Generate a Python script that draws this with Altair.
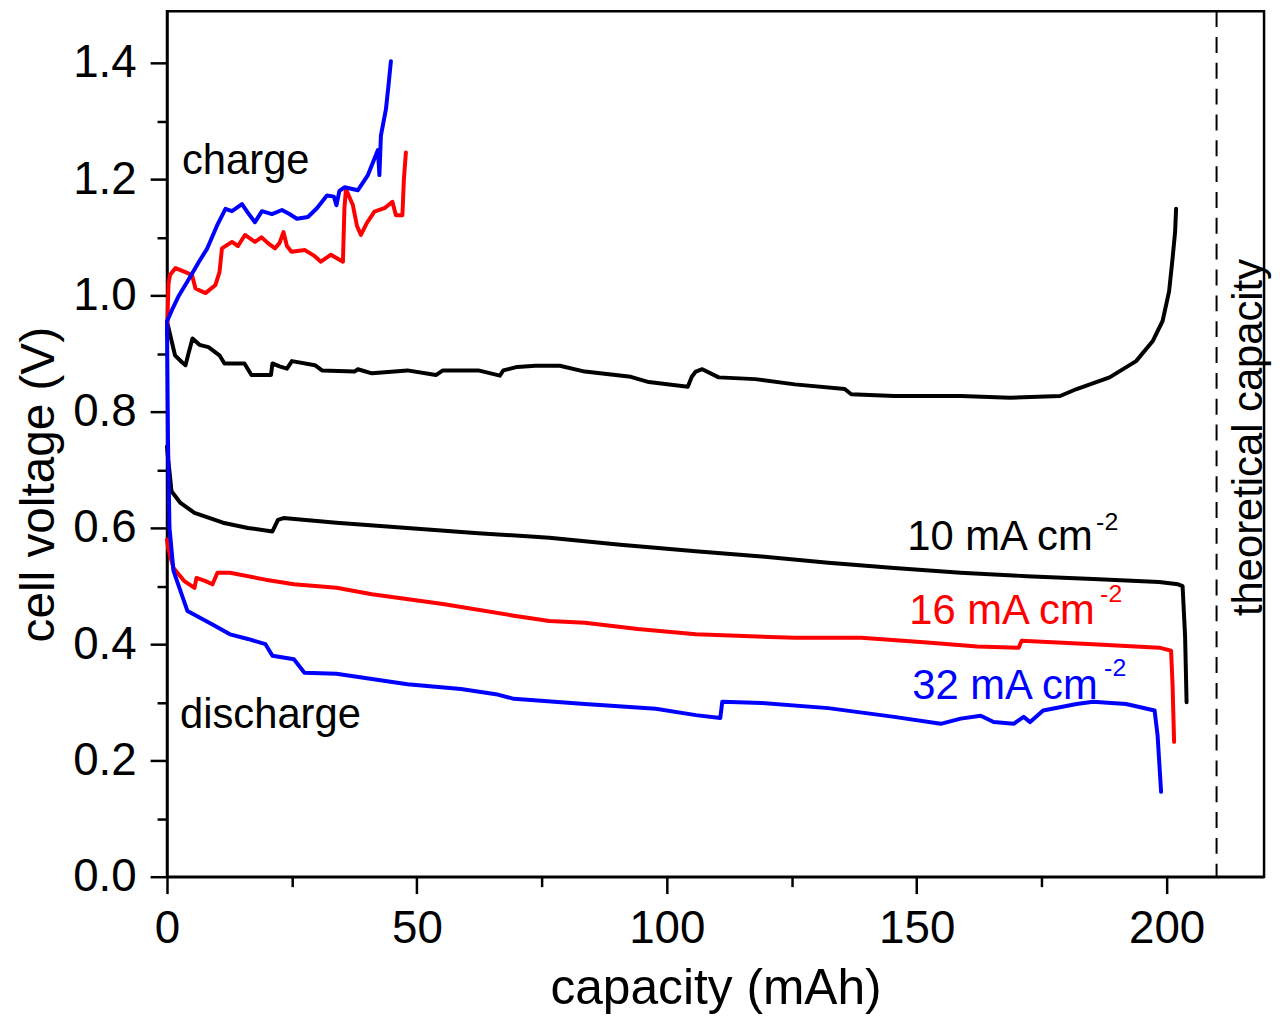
import altair as alt
import pandas as pd

FONT = "Liberation Sans"

# ---- data ----
BLACK_CHARGE_X = [0, 0.5, 1.6, 3.0, 3.7, 4.3, 5.1, 6.5, 8.3, 10.5, 11.5, 15.5, 16.9, 20.8, 21.1, 22.5, 24.0, 25.0,
                  29.6, 31.0, 37.5, 38.2, 41.0, 48.1, 53.8, 55.2, 62.3, 66.6, 67.3, 70.1, 73.7, 78.6, 83.6, 92.8,
                  96.4, 104.2, 105.0, 105.8, 107.1, 110.4, 117.7, 125.6, 135.6, 136.9, 145.5, 158.8, 168.7, 178.7,
                  182.0, 188.6, 193.9, 197.2, 199.2, 200.5, 201.2, 201.7, 201.9]
BLACK_CHARGE_V = [0.955, 0.937, 0.897, 0.885, 0.880, 0.900, 0.926, 0.915, 0.911, 0.897, 0.883, 0.883, 0.863, 0.863,
                  0.883, 0.878, 0.874, 0.887, 0.880, 0.871, 0.869, 0.873, 0.866, 0.871, 0.863, 0.871, 0.871, 0.862,
                  0.871, 0.877, 0.879, 0.879, 0.869, 0.860, 0.851, 0.843, 0.860, 0.869, 0.873, 0.859, 0.856, 0.847,
                  0.839, 0.830, 0.827, 0.827, 0.824, 0.827, 0.839, 0.859, 0.887, 0.921, 0.956, 1.007, 1.064, 1.109,
                  1.149]

BLACK_DIS_X = [0, 0.2, 0.5, 0.9, 2.7, 5.5, 11.2, 16.2, 21.1, 22.2, 23.3, 33.9, 48.1, 62.3, 76.5, 90.7, 105.8,
               119.0, 132.3, 145.5, 158.8, 172.0, 185.3, 198.5, 202.3, 203.2, 203.7, 204.0]
BLACK_DIS_V = [0.74, 0.72, 0.697, 0.663, 0.643, 0.626, 0.609, 0.600, 0.594, 0.614, 0.617, 0.609, 0.600, 0.591,
               0.583, 0.571, 0.560, 0.551, 0.540, 0.531, 0.523, 0.517, 0.512, 0.507, 0.503, 0.500, 0.414, 0.300]

RED_CHARGE_X = [0, 0.3, 0.6, 1.7, 3.7, 5.0, 5.7, 7.7, 9.7, 10.5, 11.0, 13.0, 14.2, 15.6, 17.6, 18.9, 20.2, 21.6,
                22.5, 23.3, 24.0, 24.9, 27.6, 29.5, 30.8, 32.8, 35.2, 35.5, 35.8, 37.2, 38.0, 38.8, 40.0, 41.5,
                43.5, 45.1, 45.8, 47.1, 47.4, 47.8]
RED_CHARGE_V = [0.93, 1.02, 1.035, 1.047, 1.040, 1.035, 1.012, 1.004, 1.018, 1.040, 1.081, 1.092, 1.085, 1.104,
                1.092, 1.100, 1.090, 1.081, 1.090, 1.109, 1.085, 1.075, 1.078, 1.068, 1.058, 1.070, 1.058, 1.150,
                1.183, 1.155, 1.120, 1.104, 1.125, 1.144, 1.150, 1.161, 1.138, 1.138, 1.200, 1.246]

RED_DIS_X = [0, 0.2, 1.3, 3.4, 5.5, 5.9, 7.6, 9.1, 10.1, 12.6, 19.7, 25.4, 33.9, 41.0, 55.2, 69.4, 76.5, 83.6,
             94.2, 105.8, 125.6, 138.9, 152.1, 162.1, 170.4, 171.0, 185.3, 198.5, 200.9, 201.2, 201.5]
RED_DIS_V = [0.58, 0.566, 0.531, 0.509, 0.497, 0.514, 0.509, 0.503, 0.523, 0.523, 0.511, 0.503, 0.497, 0.486,
             0.469, 0.449, 0.440, 0.437, 0.426, 0.417, 0.411, 0.411, 0.403, 0.396, 0.394, 0.406, 0.400, 0.394,
             0.389, 0.329, 0.232]

BLUE_CHARGE_X = [0, 1.0, 2.4, 4.5, 6.4, 8.0, 10.0, 11.7, 13.0, 15.0, 16.2, 17.6, 19.0, 21.0, 23.0, 24.5, 26.0,
                 28.2, 30.0, 32.0, 33.4, 33.9, 34.5, 35.5, 38.2, 40.2, 41.5, 42.2, 42.5, 42.8, 43.8, 44.3, 44.8]
BLUE_CHARGE_V = [0.955, 0.975, 1.000, 1.030, 1.058, 1.080, 1.120, 1.149, 1.145, 1.157, 1.142, 1.126, 1.145,
                 1.140, 1.147, 1.140, 1.132, 1.135, 1.150, 1.172, 1.170, 1.155, 1.180, 1.186, 1.181, 1.207, 1.235,
                 1.250, 1.207, 1.275, 1.320, 1.360, 1.403]

BLUE_DIS_X = [0, 0.2, 0.5, 1.3, 4.1, 9.1, 12.6, 16.2, 19.7, 21.1, 25.4, 27.5, 33.9, 48.1, 58.8, 65.8, 69.4, 83.6,
              97.8, 105.8, 110.7, 111.1, 119.0, 132.3, 145.5, 154.8, 158.8, 162.8, 165.4, 169.4, 171.4, 172.7,
              175.3, 182.0, 185.3, 191.9, 197.6, 198.2, 198.9]
BLUE_DIS_V = [0.95, 0.75, 0.60, 0.526, 0.457, 0.434, 0.417, 0.409, 0.400, 0.380, 0.374, 0.351, 0.349, 0.331,
              0.323, 0.314, 0.306, 0.297, 0.289, 0.278, 0.273, 0.301, 0.299, 0.290, 0.275, 0.263, 0.272, 0.277,
              0.266, 0.263, 0.275, 0.266, 0.286, 0.297, 0.301, 0.297, 0.286, 0.243, 0.146]

THEORETICAL = 210
X_MAJOR = [0, 50, 100, 150, 200]
X_MINOR = [25, 75, 125, 175]
Y_MAJOR = [0.0, 0.2, 0.4, 0.6, 0.8, 1.0, 1.2, 1.4]
Y_MINOR = [0.1, 0.3, 0.5, 0.7, 0.9, 1.1, 1.3]

LABEL_TEXT = ["charge", "discharge", "10 mA cm", "16 mA cm", "32 mA cm"]
LABEL_X = [3.0, 2.6, 148.1, 148.5, 149.1]
LABEL_V = [1.209, 0.255, 0.562, 0.434, 0.306]
LABEL_COLOR = ["black", "black", "black", "red", "blue"]

SUP_TEXT = ["-2", "-2", "-2"]
SUP_X = [185.9, 186.7, 187.5]
SUP_V = [0.597, 0.472, 0.345]
SUP_COLOR = ["black", "red", "blue"]

THEO_TEXT = "theoretical capacity"
THEO_TEXT_X = 219.0
THEO_TEXT_V = 0.7556

# ---- build table ----
series = [
    ("10 charge", "black", BLACK_CHARGE_X, BLACK_CHARGE_V),
    ("10 discharge", "black", BLACK_DIS_X, BLACK_DIS_V),
    ("16 charge", "red", RED_CHARGE_X, RED_CHARGE_V),
    ("16 discharge", "red", RED_DIS_X, RED_DIS_V),
    ("32 charge", "blue", BLUE_CHARGE_X, BLUE_CHARGE_V),
    ("32 discharge", "blue", BLUE_DIS_X, BLUE_DIS_V),
]
rows = []
for name, col, xs, vs in series:
    for i, (xx, vv) in enumerate(zip(xs, vs)):
        rows.append({"series": name, "color": col, "x": xx, "v": vv, "i": i})
df = pd.DataFrame(rows)

labels = pd.DataFrame({"x": LABEL_X, "v": LABEL_V, "text": LABEL_TEXT, "color": LABEL_COLOR})
sups = pd.DataFrame({"x": SUP_X, "v": SUP_V, "text": SUP_TEXT, "color": SUP_COLOR})

xscale = alt.Scale(domain=[0, 219.5], nice=False, zero=False)
yscale = alt.Scale(domain=[0, 1.489], nice=False, zero=False)

main_x_axis = alt.Axis(values=X_MAJOR, title="capacity (mAh)", orient="bottom", tickSize=17,
                       labelPadding=13, labelFlush=False, titleX=552, titleY=128, titleBaseline="alphabetic",
                       titleFontSize=50, titleFont=FONT, titleFontWeight="normal", titleColor="black")
main_y_axis = alt.Axis(values=Y_MAJOR, format=".1f", title="cell voltage (V)", orient="left", tickSize=17,
                       labelPadding=14, labelFlush=False, titleX=-114, titleY=476, titleAngle=270,
                       titleAlign="center", titleBaseline="alphabetic", titleFontSize=48, titleFont=FONT,
                       titleFontWeight="normal", titleColor="black")

lines = alt.Chart(df).mark_line(strokeWidth=4, strokeJoin="round", strokeCap="round").encode(
    x=alt.X("x:Q", scale=xscale, axis=main_x_axis),
    y=alt.Y("v:Q", scale=yscale, axis=main_y_axis),
    detail="series:N",
    order="i:Q",
    color=alt.Color("color:N", scale=None),
)

minor = alt.Chart(df).mark_line(strokeOpacity=0).encode(
    x=alt.X("x:Q", scale=xscale, axis=alt.Axis(values=X_MINOR, labels=False, tickSize=10, title=None,
                                               orient="bottom", domain=False)),
    y=alt.Y("v:Q", scale=yscale, axis=alt.Axis(values=Y_MINOR, labels=False, tickSize=10, title=None,
                                               orient="left", domain=False)),
    detail="series:N",
)

theo_rule = alt.Chart(pd.DataFrame({"x": [THEORETICAL]})).mark_rule(
    color="black", strokeWidth=2, strokeDash=[16, 10]).encode(x=alt.X("x:Q", scale=xscale, axis=None))

theo_text = alt.Chart(pd.DataFrame({"x": [THEO_TEXT_X], "v": [THEO_TEXT_V], "text": [THEO_TEXT]})).mark_text(
    angle=270, align="center", baseline="alphabetic", fontSize=42, font=FONT, color="black").encode(
    x=alt.X("x:Q", scale=xscale, axis=None), y=alt.Y("v:Q", scale=yscale, axis=None), text="text:N")

label_layer = alt.Chart(labels).mark_text(align="left", baseline="alphabetic", fontSize=42, font=FONT).encode(
    x=alt.X("x:Q", scale=xscale, axis=None), y=alt.Y("v:Q", scale=yscale, axis=None), text="text:N",
    color=alt.Color("color:N", scale=None))

sup_layer = alt.Chart(sups).mark_text(align="left", baseline="alphabetic", fontSize=25, font=FONT).encode(
    x=alt.X("x:Q", scale=xscale, axis=None), y=alt.Y("v:Q", scale=yscale, axis=None), text="text:N",
    color=alt.Color("color:N", scale=None))

chart = alt.layer(lines, minor, theo_rule, theo_text, label_layer, sup_layer).resolve_axis(
    x="independent", y="independent"
).properties(
    width=1104, height=871,
    autosize=alt.AutoSizeParams(type="none"),
    padding={"left": 160, "top": 0, "right": 8, "bottom": 140},
    background="white",
).configure_view(
    stroke="black", strokeWidth=2.5
).configure_axis(
    grid=False, domainColor="black", domainWidth=2.5, tickColor="black", tickWidth=2.5,
    labelFont=FONT, labelFontSize=46, labelColor="black",
)

chart.save("out.html", embed_options={"renderer": "svg", "actions": False})
